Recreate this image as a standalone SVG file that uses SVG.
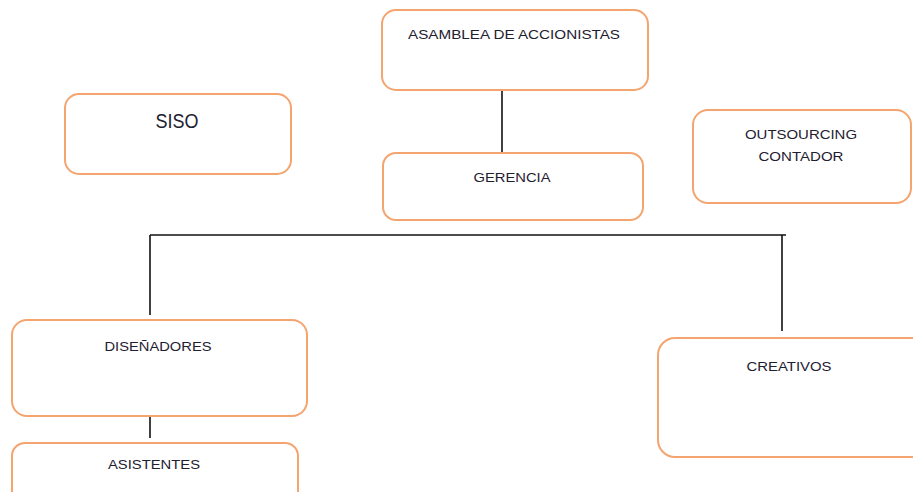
<svg xmlns="http://www.w3.org/2000/svg" width="913" height="492" viewBox="0 0 913 492">
<style>
.box{fill:#fff;stroke:#f4a46e;stroke-width:2}
.t{font-family:"Liberation Sans",Arial,sans-serif;font-size:13px;fill:#1e2030;text-anchor:middle}
.big{font-size:20px}
.c{stroke:#111;stroke-width:1.6;fill:none}
</style>
<rect width="913" height="492" fill="#fff"/>
<g id="connectors">
<line class="c" x1="502" y1="85" x2="502" y2="153"/>
<line class="c" x1="150" y1="235" x2="786" y2="235"/>
<line class="c" x1="150" y1="235" x2="150" y2="315"/>
<line class="c" x1="782" y1="235" x2="782" y2="331"/>
<line class="c" x1="150" y1="416" x2="150" y2="438"/>
</g>
<g id="asamblea">
<rect class="box" x="382" y="10" width="266" height="80" rx="14"/>
<text class="t" x="514" y="39" textLength="212" lengthAdjust="spacingAndGlyphs">ASAMBLEA DE ACCIONISTAS</text>
</g>
<g id="gerencia">
<rect class="box" x="383" y="153" width="260" height="67" rx="13"/>
<text class="t" x="512" y="182" textLength="77" lengthAdjust="spacingAndGlyphs">GERENCIA</text>
</g>
<g id="siso">
<rect class="box" x="65" y="94" width="226" height="80" rx="14"/>
<text class="t big" x="177" y="128" textLength="43" lengthAdjust="spacingAndGlyphs">SISO</text>
</g>
<g id="outsourcing">
<rect class="box" x="693" y="110" width="218" height="93" rx="15"/>
<text class="t" x="801" y="139" textLength="112" lengthAdjust="spacingAndGlyphs">OUTSOURCING</text>
<text class="t" x="801" y="161" textLength="85" lengthAdjust="spacingAndGlyphs">CONTADOR</text>
</g>
<g id="disenadores">
<rect class="box" x="12" y="320" width="295" height="96" rx="15"/>
<text class="t" x="158" y="351" textLength="107" lengthAdjust="spacingAndGlyphs">DISEÑADORES</text>
</g>
<g id="asistentes">
<rect class="box" x="12" y="443" width="286" height="70" rx="13"/>
<text class="t" x="154" y="469" textLength="92" lengthAdjust="spacingAndGlyphs">ASISTENTES</text>
</g>
<g id="creativos">
<rect class="box" x="658" y="338" width="270" height="119" rx="17"/>
<text class="t" x="789" y="371" textLength="85" lengthAdjust="spacingAndGlyphs">CREATIVOS</text>
</g>
</svg>
